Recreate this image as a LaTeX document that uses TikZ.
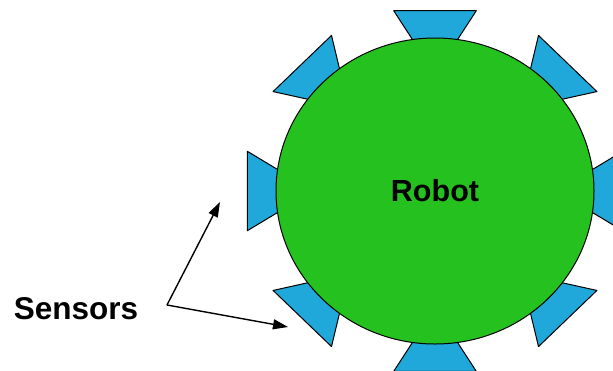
\documentclass[tikz,border=0pt]{standalone}
\usepackage{fontspec}
\setmainfont{Liberation Sans}
\usetikzlibrary{shapes.geometric,arrows.meta}
\definecolor{robotgreen}{HTML}{25C21F}
\definecolor{sensorblue}{HTML}{1FA8D9}
\tikzset{
  sensorpad/.style={draw=black,line width=1pt,fill=sensorblue,line join=round},
  robotbody/.style={ellipse,draw=black,line width=1pt,fill=robotgreen,
    minimum width=318pt,minimum height=306pt,inner sep=0pt,
    font=\bfseries\fontsize{30.5}{36}\selectfont},
  label/.style={font=\bfseries\fontsize{31.5}{36}\selectfont,inner sep=0pt},
  pointer/.style={line width=1.4pt,-{Triangle[length=15pt,width=10pt]}}
}
\begin{document}
\begin{tikzpicture}[x=1pt,y=-1pt]
  \useasboundingbox (0,0) rectangle (613,370);
  \clip (0,0) rectangle (613,370);
  % eight sensor pads around the robot body
  \begin{scope}[shift={(435,191)},xscale=1.02,yscale=0.98]
    \foreach \a in {0,45,...,315}{
      \draw[sensorpad,rotate=\a] (140,-13) -- (184,-40.5) -- (184,40.5) -- (140,13) -- cycle;
    }
  \end{scope}
  % robot body
  \node[robotbody] (robot) at (435,191) {Robot};
  % label with two pointers
  \node[label] (sensors) at (76,309) {Sensors};
  \coordinate (fork) at (167,305);
  \coordinate (tipA) at (220,202);
  \coordinate (tipB) at (288,327);
  \draw[pointer] (fork) -- (tipA);
  \draw[pointer] (fork) -- (tipB);
\end{tikzpicture}
\end{document}
